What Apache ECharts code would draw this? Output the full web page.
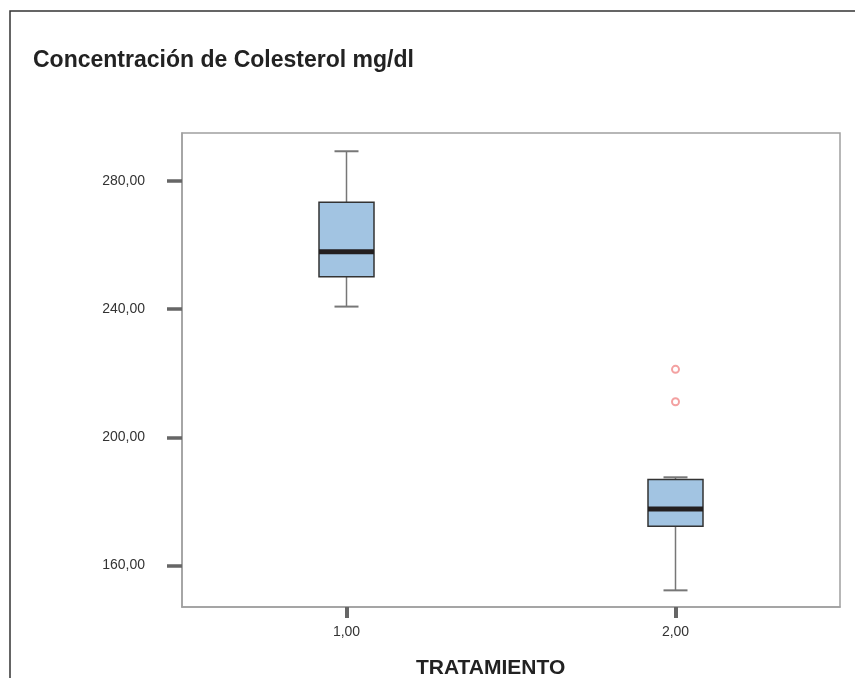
<!DOCTYPE html>
<html>
<head>
<meta charset="utf-8">
<script src="https://cdn.jsdelivr.net/npm/echarts@6/dist/echarts.min.js"></script>
<style>
  html, body { margin: 0; padding: 0; background: #fff; }
  #box { width: 855px; height: 678px; }
</style>
</head>
<body>
<div id="box"></div>
<script>
  // tratamiento groups
  const categories = ['1,00', '2,00'];
  // five-number summary per group (mg/dl)
  const mins = [240.8, 152.2];
  const q1s = [250.1, 172.2];
  const medians = [257.9, 177.6];
  const q3s = [273.4, 186.8];
  const maxs = [289.3, 187.5];
  // outliers: [group index, value]
  const outliers = [[1, 221.2], [1, 211.1]];
  const yTicks = [160, 200, 240, 280];

  let chart = echarts.init(document.getElementById('box'));

  let boxData = categories.map(function (c, i) {
    return [i, mins[i], q1s[i], medians[i], q3s[i], maxs[i]];
  });

  function renderBox(params, api) {
    let idx = api.value(0);
    let pMin = api.coord([idx, api.value(1)]);
    let pQ1 = api.coord([idx, api.value(2)]);
    let pMed = api.coord([idx, api.value(3)]);
    let pQ3 = api.coord([idx, api.value(4)]);
    let pMax = api.coord([idx, api.value(5)]);
    let x = pMed[0];
    let half = 27.5;
    let cap = 12;
    let whisk = { stroke: '#777', lineWidth: 1.5 };
    return {
      type: 'group',
      children: [
        { type: 'line', shape: { x1: x, y1: pQ3[1], x2: x, y2: pMax[1] }, style: whisk },
        { type: 'line', shape: { x1: x, y1: pQ1[1], x2: x, y2: pMin[1] }, style: whisk },
        { type: 'line', shape: { x1: x - cap, y1: pMax[1], x2: x + cap, y2: pMax[1] }, style: { stroke: '#777', lineWidth: 2 } },
        { type: 'line', shape: { x1: x - cap, y1: pMin[1], x2: x + cap, y2: pMin[1] }, style: { stroke: '#777', lineWidth: 2 } },
        {
          type: 'rect',
          shape: { x: x - half, y: pQ3[1], width: half * 2, height: pQ1[1] - pQ3[1] },
          style: { fill: '#a2c4e2', stroke: '#333', lineWidth: 1.5 }
        },
        { type: 'line', shape: { x1: x - half, y1: pMed[1], x2: x + half, y2: pMed[1] }, style: { stroke: '#231f20', lineWidth: 5 } }
      ]
    };
  }

  let option = {
    backgroundColor: '#fff',
    animation: false,
    title: [{
      text: 'Concentración de Colesterol mg/dl',
      left: 28,
      top: 44,
      textStyle: { fontFamily: 'Liberation Sans', fontSize: 23, fontWeight: 'bold', color: '#222' }
    }, {
      text: 'TRATAMIENTO',
      left: 411,
      top: 653,
      textStyle: { fontFamily: 'Liberation Sans', fontSize: 21, fontWeight: 'bold', color: '#222' }
    }],
    graphic: [{
      type: 'rect',
      shape: { x: 10, y: 11, width: 900, height: 700 },
      style: { fill: 'none', stroke: '#333', lineWidth: 1.5 },
      silent: true
    }],
    grid: {
      left: 182,
      top: 133,
      right: 15,
      bottom: 71,
      show: true,
      borderColor: '#a0a0a0',
      borderWidth: 1.5
    },
    xAxis: {
      type: 'category',
      data: categories,
      boundaryGap: true,
      axisLine: { show: true, lineStyle: { color: '#a0a0a0', width: 1.5 } },
      axisTick: { show: true, alignWithLabel: true, length: 11, lineStyle: { color: '#666', width: 4 } },
      axisLabel: { margin: 18, fontFamily: 'Liberation Sans', fontSize: 14, color: '#333' },
      splitLine: { show: false }
    },
    yAxis: {
      type: 'value',
      min: 147,
      max: 295,
      axisLine: { show: true, lineStyle: { color: '#a0a0a0', width: 1.5 } },
      axisTick: { show: true, length: 15, customValues: yTicks, lineStyle: { color: '#666', width: 3.5 } },
      axisLabel: {
        customValues: yTicks,
        margin: 37,
        fontFamily: 'Liberation Sans',
        fontSize: 14,
        color: '#333',
        formatter: function (v) { return v.toFixed(2).replace('.', ','); }
      },
      splitLine: { show: false }
    },
    series: [{
      type: 'custom',
      renderItem: renderBox,
      data: boxData,
      encode: { x: 0, y: [1, 2, 3, 4, 5] },
      z: 2
    }, {
      type: 'scatter',
      data: outliers,
      symbol: 'emptyCircle',
      symbolSize: 7,
      itemStyle: { color: '#f08a8a', borderWidth: 1.2 },
      z: 3
    }]
  };

  chart.setOption(option);
</script>
</body>
</html>
